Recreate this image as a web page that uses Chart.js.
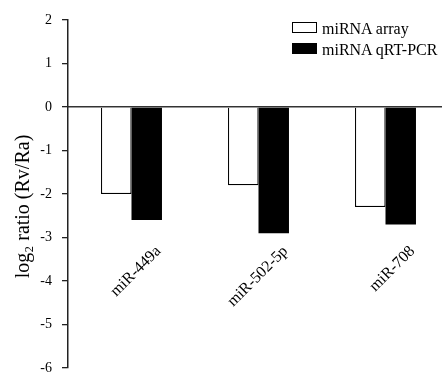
<!DOCTYPE html>
<html>
<head>
<meta charset="utf-8">
<script src="https://cdn.jsdelivr.net/npm/chart.js@4"></script>
<style>
  html, body { margin: 0; padding: 0; background: #fff; overflow: hidden; }
  #wrap { position: relative; width: 442px; height: 373px; overflow: hidden; }
  #legend { position: absolute; left: 292px; top: 21px; font: 16px 'Liberation Serif', serif; color: #000; }
  #legend div { height: 21px; line-height: 15px; white-space: nowrap; }
  #legend span { display: inline-block; width: 23px; height: 9px; border: 1px solid #000; margin-right: 5px; vertical-align: 1px; }
</style>
</head>
<body>
<div id="wrap">
  <!-- canvas a bit wider than the window so the plot runs off the right edge -->
  <canvas id="c" width="449" height="373"></canvas>
  <div id="legend"></div>
</div>
<script>
  const categories = ['miR-449a', 'miR-502-5p', 'miR-708'];
  const arrayValues = [-2.0, -1.8, -2.3];
  const qpcrValues = [-2.6, -2.9, -2.7];
  const seriesNames = ['miRNA array', 'miRNA qRT-PCR'];
  const yTicks = [2, 1, 0, -1, -2, -3, -4, -5, -6];

  const serif = "'Liberation Serif', 'Times New Roman', serif";
  const fills = ['#ffffff', '#000000'];

  // legend as real text on top of the canvas
  const legend = document.getElementById('legend');
  seriesNames.forEach(function (name, i) {
    const row = document.createElement('div');
    const box = document.createElement('span');
    box.style.background = fills[i];
    row.appendChild(box);
    row.appendChild(document.createTextNode(name));
    legend.appendChild(row);
  });

  new Chart(document.getElementById('c'), {
    type: 'bar',
    data: {
      labels: categories,
      datasets: [
        { label: seriesNames[0], data: arrayValues, backgroundColor: fills[0], borderColor: '#000', borderWidth: 1.2 },
        { label: seriesNames[1], data: qpcrValues, backgroundColor: fills[1], borderColor: '#000', borderWidth: 0 }
      ]
    },
    options: {
      responsive: false,
      animation: false,
      events: [],
      layout: { padding: { top: 20, bottom: 5, left: 0, right: 0 } },
      datasets: { bar: { categoryPercentage: 0.48, barPercentage: 1.0 } },
      plugins: { legend: { display: false }, tooltip: { enabled: false } },
      scales: {
        x: {
          position: { y: 0 },
          offset: true,
          grid: { display: false },
          border: { display: true, color: '#333', width: 1.5 },
          ticks: {
            autoSkip: false,
            minRotation: 45,
            maxRotation: 45,
            padding: 127,
            labelOffset: 27,
            color: '#000',
            font: { family: serif, size: 16 }
          },
          afterFit: function (s) { s.paddingLeft = 0; s.paddingRight = 0; }
        },
        y: {
          min: -6,
          max: 2,
          afterBuildTicks: function (s) { s.ticks = yTicks.map(function (v) { return { value: v }; }); },
          grid: { display: true, drawOnChartArea: false, tickLength: 6, color: '#222', lineWidth: 1.3 },
          border: { display: true, color: '#222', width: 1.5 },
          ticks: { padding: 10, color: '#000', font: { family: serif, size: 14 } },
          title: {
            display: true,
            text: 'log\u2082 ratio (Rv/Ra)     ',
            color: '#000',
            font: { family: serif, size: 20 },
            padding: { top: 12, bottom: 0 }
          },
          afterFit: function (s) { s.width = 68; s.paddingTop = 0; s.paddingBottom = 0; }
        }
      }
    }
  });
</script>
</body>
</html>
